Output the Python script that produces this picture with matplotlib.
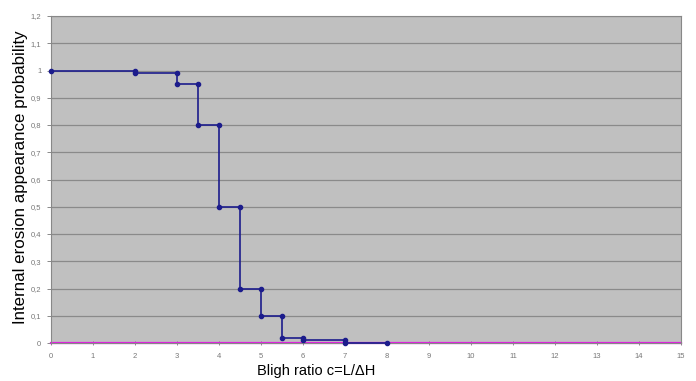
import numpy as np
import matplotlib.pyplot as plt

plt.rcParams['font.family'] = ['Liberation Sans', 'DejaVu Sans']

# step curve
bligh = [0, 2, 2, 3, 3, 3.5, 3.5, 4, 4, 4.5, 4.5, 5, 5, 5.5, 5.5, 6, 6, 7, 7, 8]
prob = [1, 1, 0.99, 0.99, 0.95, 0.95, 0.8, 0.8, 0.5, 0.5, 0.2, 0.2, 0.1, 0.1,
        0.02, 0.02, 0.01, 0.01, 0, 0]

# flat zero series along the bottom
base_x = [0, 15]
base_y = [0, 0]

xticks = list(range(0, 16))
yticks = [round(0.1 * i, 1) for i in range(0, 13)]
ylabels = [("%g" % v).replace(".", ",") for v in yticks]

fig = plt.figure(figsize=(6.96, 3.81), dpi=100)
ax = fig.add_axes([0.0733, 0.0997, 0.9051, 0.8583])
ax.set_facecolor("#c0c0c0")

for v in yticks[1:]:
    ax.axhline(v, color="#8a8a8a", lw=0.9, zorder=1)

ax.plot(base_x, base_y, color="#e020e0", lw=1.6, zorder=2, clip_on=False)
ax.plot(bligh, prob, color="#1c1c8c", lw=1.2, marker="o", ms=3,
        zorder=3, clip_on=False)

ax.set_xlim(0, 15)
ax.set_ylim(0, 1.2)
ax.set_xticks(xticks)
ax.set_xticklabels([str(v) for v in xticks])
ax.set_yticks(yticks)
ax.set_yticklabels(ylabels)
ax.tick_params(axis="both", labelsize=5.5, colors="#777777", length=3,
               width=0.6, pad=4)
ax.tick_params(axis="x", direction="inout", pad=6)

for s in ax.spines.values():
    s.set_color("#888888")
    s.set_linewidth(0.8)

fig.text(316 / 696, 1 - 371 / 381, "Bligh ratio c=L/\u0394H", fontsize=10.5,
         ha="center", va="center")
fig.text(21 / 696, 1 - 177 / 381, "Internal erosion appearance probability",
         fontsize=12.2, rotation=90, ha="center", va="center")

plt.savefig("out.png", dpi=100)
